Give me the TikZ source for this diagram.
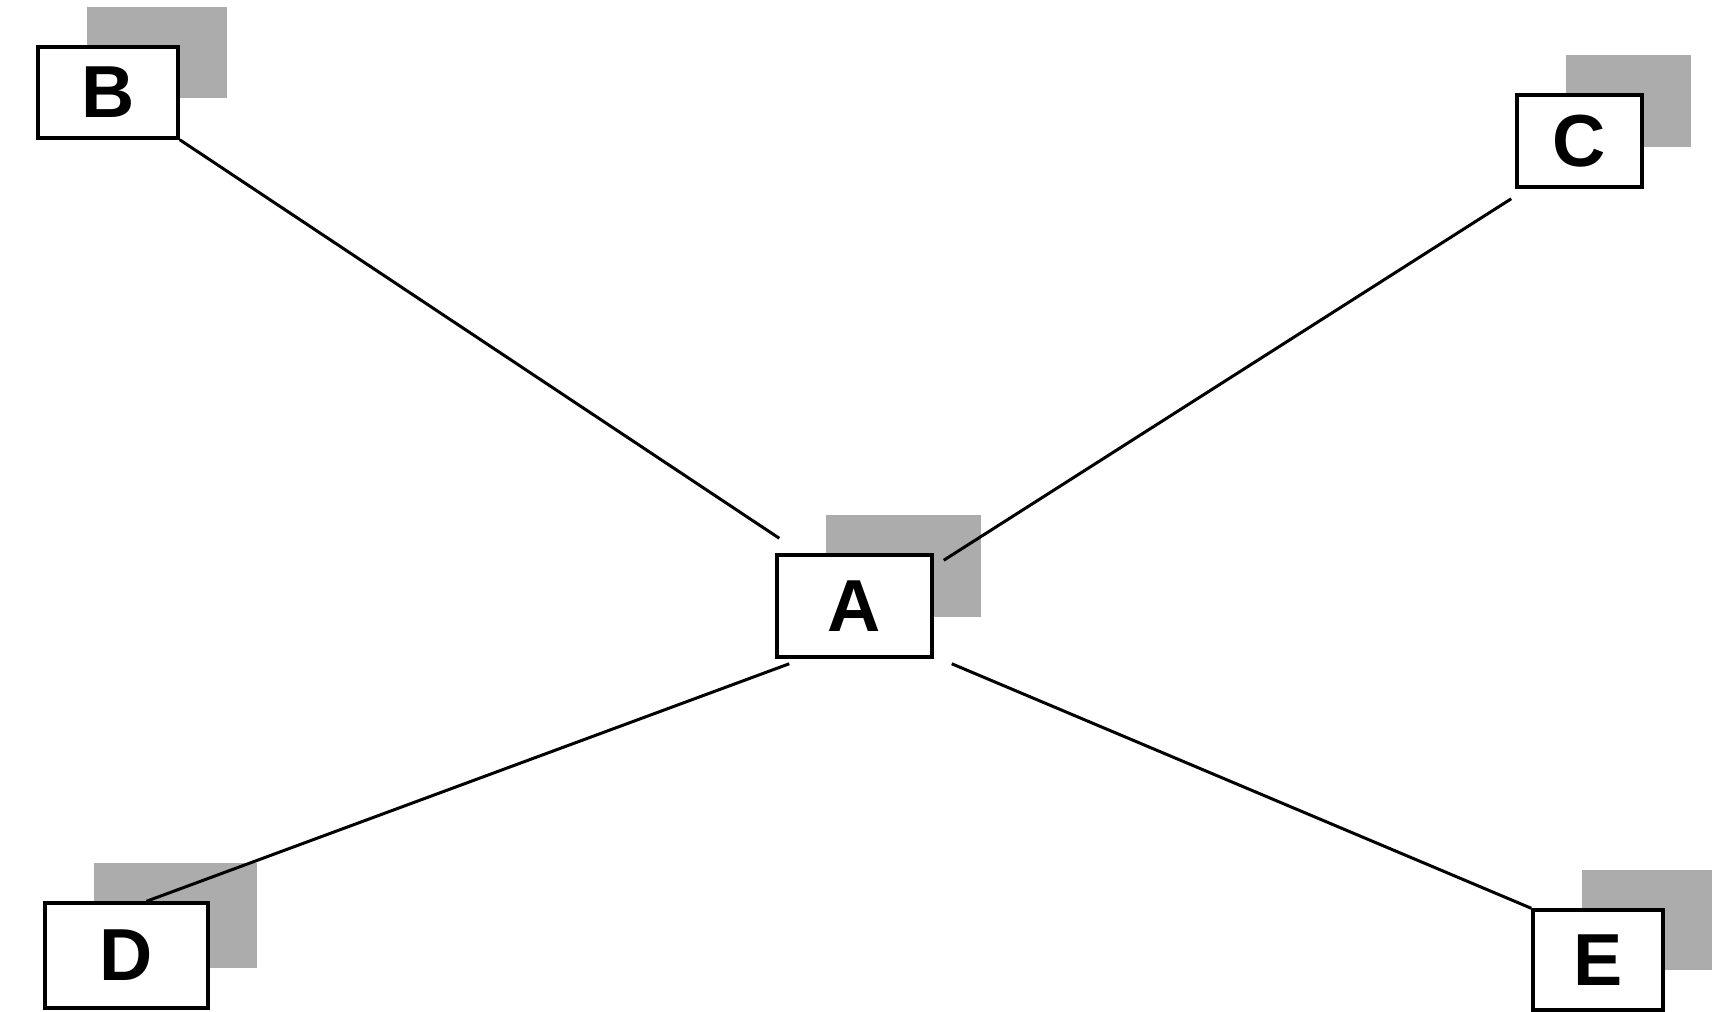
\documentclass[tikz,border=0pt]{standalone}
\usepackage{fontspec}
\setmainfont{Liberation Sans}
\usetikzlibrary{shadows,calc}
\definecolor{shadowgray}{RGB}{172,172,172}
\tikzset{
  box/.style={draw=black, line width=3.5bp, fill=white, inner sep=0pt,
    font=\fontsize{74}{80}\selectfont\bfseries,
    general shadow={shadow xshift=49bp, shadow yshift=40bp, fill=shadowgray}},
  link/.style={draw=black, line width=3bp}
}
\begin{document}
\begin{tikzpicture}[x=1bp,y=-1bp]
\useasboundingbox (0,0) rectangle (1717,1011);
\node[box, minimum width=140bp, minimum height=91bp] (B) at (108,92.5) {B};
\node[box, minimum width=155bp, minimum height=102bp] (A) at (854.5,606) {A};
\node[box, minimum width=125bp, minimum height=92bp] (C) at (1579.5,141) {C};
\node[box, minimum width=163bp, minimum height=105bp] (D) at (126.5,955.5) {D};
\node[box, minimum width=130bp, minimum height=100bp] (E) at (1598,960) {E};
\coordinate (bEnd) at ($(A.north west)+(4,-15)$);
\coordinate (cStart) at ($(A.north east)+(10,7)$);
\coordinate (cEnd) at ($(C.south west)+(-4,10)$);
\coordinate (dStart) at ($(A.south west)+(14,5)$);
\coordinate (dEnd) at ($(D.north)+(20,0)$);
\coordinate (eStart) at ($(A.south east)+(18,5)$);
\draw[link] (B.south east) -- (bEnd);
\draw[link] (cStart) -- (cEnd);
\draw[link] (dStart) -- (dEnd);
\draw[link] (eStart) -- (E.north west);
\end{tikzpicture}
\end{document}
